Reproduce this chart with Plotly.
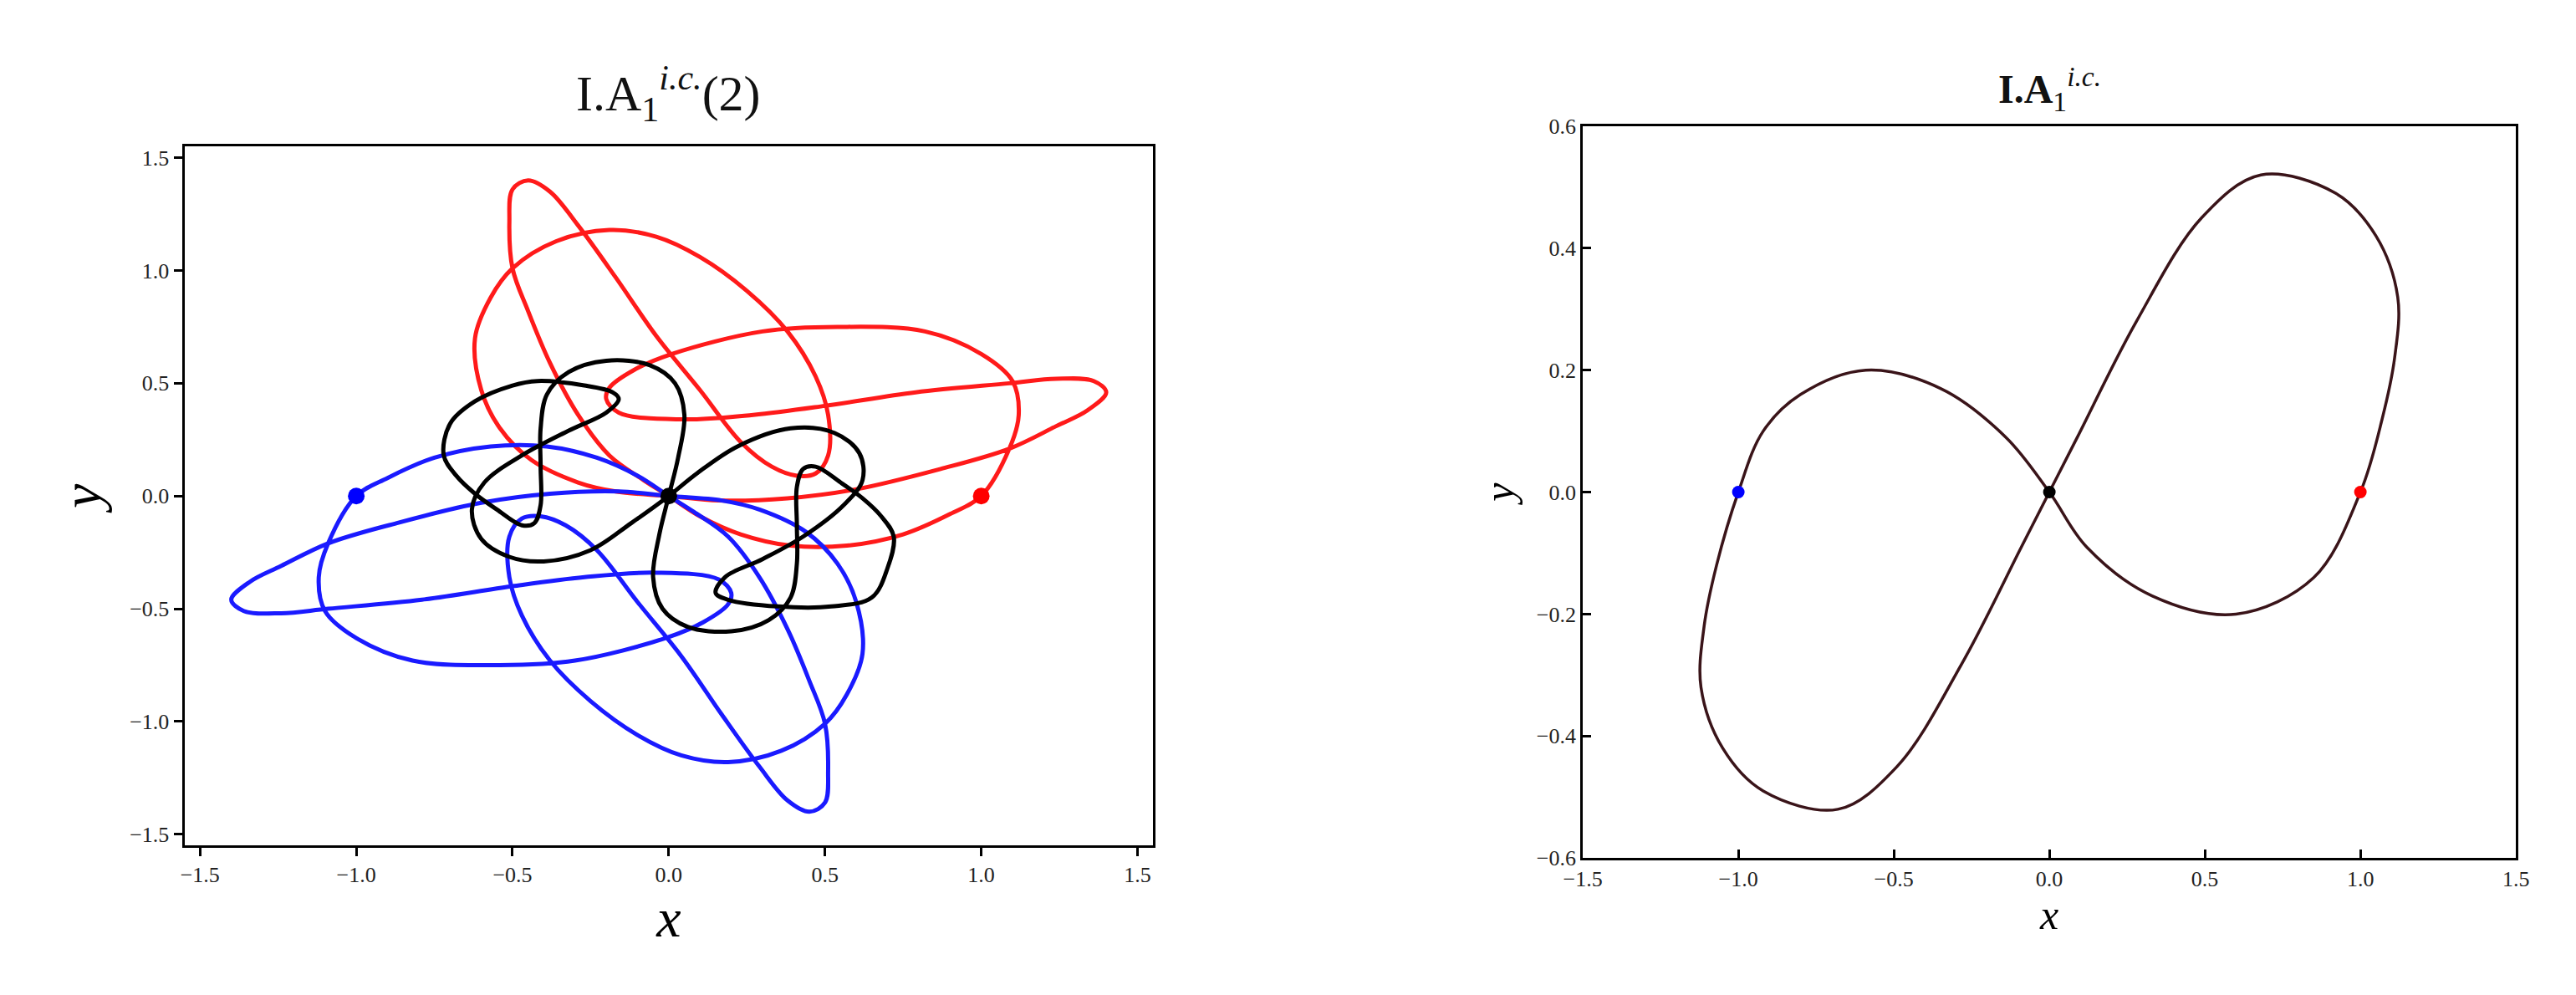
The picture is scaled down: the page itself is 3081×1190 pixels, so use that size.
import plotly.graph_objects as go

# Left panel: three bodies (red, blue, black) orbits
red_x = [1.0, 1.09, 1.12, 1.10, 1.00, 0.82, 0.54, 0.30, 0.01, -0.11, -0.19, -0.20, -0.16, 0.04, 0.27, 0.50, 0.79, 1.09, 1.24, 1.36, 1.40, 1.34, 1.24, 1.09, 0.87, 0.60, 0.38, 0.16, 0.0, -0.17, -0.29, -0.44, -0.54, -0.60, -0.62, -0.57, -0.50, -0.36, -0.19, -0.04, 0.10, 0.25, 0.38, 0.47, 0.51, 0.51, 0.47, 0.41, 0.33, 0.23, 0.10, -0.04, -0.17, -0.29, -0.38, -0.45, -0.50, -0.51, -0.50, -0.45, -0.38, -0.29, -0.19, -0.08, 0.0, 0.10, 0.23, 0.39, 0.57, 0.75, 0.90, 1.0]
red_y = [0.0, 0.21, 0.36, 0.51, 0.63, 0.73, 0.75, 0.73, 0.63, 0.56, 0.48, 0.43, 0.37, 0.34, 0.36, 0.40, 0.46, 0.50, 0.52, 0.51, 0.46, 0.38, 0.31, 0.21, 0.12, 0.03, -0.01, -0.02, 0.0, 0.02, 0.06, 0.16, 0.30, 0.47, 0.70, 0.88, 1.01, 1.13, 1.18, 1.15, 1.06, 0.91, 0.73, 0.53, 0.36, 0.18, 0.10, 0.09, 0.13, 0.24, 0.47, 0.71, 0.97, 1.20, 1.35, 1.40, 1.36, 1.22, 1.01, 0.82, 0.59, 0.36, 0.18, 0.07, 0.0, -0.09, -0.17, -0.22, -0.22, -0.17, -0.08, 0.0]
blue_x = [-1.0, -1.09, -1.12, -1.10, -1.00, -0.82, -0.54, -0.30, -0.01, 0.11, 0.19, 0.20, 0.16, -0.04, -0.27, -0.50, -0.79, -1.09, -1.24, -1.36, -1.40, -1.34, -1.24, -1.09, -0.87, -0.60, -0.38, -0.16, 0.0, 0.17, 0.29, 0.44, 0.54, 0.60, 0.62, 0.57, 0.50, 0.36, 0.19, 0.04, -0.10, -0.25, -0.38, -0.47, -0.51, -0.51, -0.47, -0.41, -0.33, -0.23, -0.10, 0.04, 0.17, 0.29, 0.38, 0.45, 0.50, 0.51, 0.50, 0.45, 0.38, 0.29, 0.19, 0.08, 0.0, -0.10, -0.23, -0.39, -0.57, -0.75, -0.90, -1.0]
blue_y = [0.0, -0.21, -0.36, -0.51, -0.63, -0.73, -0.75, -0.73, -0.63, -0.56, -0.48, -0.43, -0.37, -0.34, -0.36, -0.40, -0.46, -0.50, -0.52, -0.51, -0.46, -0.38, -0.31, -0.21, -0.12, -0.03, 0.01, 0.02, 0.0, -0.02, -0.06, -0.16, -0.30, -0.47, -0.70, -0.88, -1.01, -1.13, -1.18, -1.15, -1.06, -0.91, -0.73, -0.53, -0.36, -0.18, -0.10, -0.09, -0.13, -0.24, -0.47, -0.71, -0.97, -1.20, -1.35, -1.40, -1.36, -1.22, -1.01, -0.82, -0.59, -0.36, -0.18, -0.07, 0.0, 0.09, 0.17, 0.22, 0.22, 0.17, 0.08, 0.0]
black_x = [0.0, 0.03, 0.05, 0.02, -0.06, -0.20, -0.32, -0.39, -0.41, -0.41, -0.41, -0.43, -0.47, -0.55, -0.62, -0.68, -0.72, -0.70, -0.62, -0.50, -0.42, -0.27, -0.18, -0.16, -0.20, -0.32, -0.47, -0.59, -0.63, -0.60, -0.51, -0.40, -0.25, -0.12,
           0.0, 0.09, 0.22, 0.39, 0.53, 0.61, 0.62, 0.56, 0.43, 0.30, 0.18, 0.15, 0.19, 0.35, 0.52, 0.65, 0.70, 0.72, 0.68, 0.62, 0.55, 0.47, 0.43, 0.41, 0.41, 0.41, 0.39, 0.32, 0.20, 0.06, -0.02, -0.05, -0.03, 0.0]
black_y = [0.0, 0.17, 0.36, 0.50, 0.58, 0.60, 0.55, 0.45, 0.30, 0.13, -0.04, -0.12, -0.13, -0.06, 0.01, 0.09, 0.18, 0.32, 0.42, 0.49, 0.51, 0.49, 0.46, 0.43, 0.37, 0.29, 0.18, 0.06, -0.06, -0.19, -0.27, -0.29, -0.24, -0.12,
           0.0, 0.10, 0.22, 0.30, 0.28, 0.19, 0.07, -0.04, -0.18, -0.28, -0.36, -0.43, -0.46, -0.49, -0.49, -0.45, -0.32, -0.18, -0.09, -0.01, 0.06, 0.13, 0.12, 0.04, -0.13, -0.30, -0.45, -0.55, -0.60, -0.58, -0.50, -0.36, -0.17, 0.0]

# Right panel: figure-eight
eight_x = [-1.0, -0.92, -0.80, -0.59, -0.35, -0.14, 0.0, 0.12, 0.33, 0.60, 0.85, 1.0, 1.07, 1.11, 1.12, 1.05, 0.92, 0.68, 0.49, 0.28, 0.09,
           0.0, -0.09, -0.28, -0.49, -0.68, -0.92, -1.05, -1.12, -1.11, -1.07, -1.0]
eight_y = [0.0, 0.10, 0.16, 0.20, 0.17, 0.09, 0.0, -0.09, -0.17, -0.20, -0.14, 0.0, 0.12, 0.22, 0.32, 0.42, 0.49, 0.52, 0.45, 0.28, 0.09,
           0.0, -0.09, -0.28, -0.45, -0.52, -0.49, -0.42, -0.32, -0.22, -0.12, 0.0]

dot_x = [-1.0, 0.0, 1.0]
dot_y = [0.0, 0.0, 0.0]
dot_colors = ["#0000ff", "#000000", "#ff0000"]

ticks_left = [-1.5, -1.0, -0.5, 0.0, 0.5, 1.0, 1.5]
ticks_ry = [-0.6, -0.4, -0.2, 0.0, 0.2, 0.4, 0.6]

SERIF = "Liberation Serif"
fig = go.Figure()
for xs, ys, c in [(red_x, red_y, "#ff1a1a"), (blue_x, blue_y, "#1a1aff"), (black_x, black_y, "#000000")]:
    fig.add_trace(go.Scatter(x=xs, y=ys, mode="lines", line=dict(color=c, width=5, shape="spline", smoothing=1.0),
                             xaxis="x", yaxis="y", showlegend=False))
fig.add_trace(go.Scatter(x=dot_x, y=dot_y, mode="markers", marker=dict(color=dot_colors, size=20),
                         xaxis="x", yaxis="y", showlegend=False))
fig.add_trace(go.Scatter(x=eight_x, y=eight_y, mode="lines", line=dict(color="#3a1419", width=3.5, shape="spline", smoothing=1.0),
                         xaxis="x2", yaxis="y2", showlegend=False))
fig.add_trace(go.Scatter(x=dot_x, y=dot_y, mode="markers", marker=dict(color=dot_colors, size=15),
                         xaxis="x2", yaxis="y2", showlegend=False))

ax_common = dict(showgrid=False, zeroline=False, showline=True, linecolor="black", linewidth=3, mirror=True,
                 tickformat=".1f",
                 tickfont=dict(family=SERIF, size=26, color="#222"), tickcolor="black", ticklen=10, tickwidth=3)
tf_big = dict(family=SERIF, size=66, color="black")
tf_small = dict(family=SERIF, size=50, color="black")
fig.update_layout(
    width=3081, height=1190, plot_bgcolor="white", paper_bgcolor="white",
    margin=dict(l=0, r=0, t=0, b=0),
    xaxis=dict(domain=[0.062, 0.443], range=[-1.55, 1.55], tickvals=ticks_left, ticks="outside", anchor="y",
               title=dict(text="<i>x</i>", font=tf_big, standoff=8), **ax_common),
    yaxis=dict(domain=[0.148, 0.868], range=[-1.55, 1.55], tickvals=ticks_left, ticks="outside", anchor="x",
               title=dict(text="<i>y</i>", font=tf_big, standoff=14), **ax_common),
    xaxis2=dict(domain=[0.612, 0.979], range=[-1.5, 1.5], tickvals=ticks_left, ticks="inside", anchor="y2",
                title=dict(text="<i>x</i>", font=tf_small, standoff=0), **ax_common),
    yaxis2=dict(domain=[0.135, 0.889], range=[-0.6, 0.6], tickvals=ticks_ry, ticks="inside", anchor="x2",
                title=dict(text="<i>y</i>", font=tf_small, standoff=12), **ax_common),
    annotations=[
        dict(text="I.A<sub>1</sub><sup><i>i.c.</i></sup>(2)", x=0.2525, y=0.885, xref="paper", yref="paper",
             xanchor="center", yanchor="bottom", showarrow=False, font=dict(family=SERIF, size=60, color="#111")),
        dict(text="<b>I.A</b><sub>1</sub><sup><i>i.c.</i></sup>", x=0.7955, y=0.897, xref="paper", yref="paper",
             xanchor="center", yanchor="bottom", showarrow=False, font=dict(family=SERIF, size=48, color="#111")),
    ],
)
fig.write_html("out.html")
